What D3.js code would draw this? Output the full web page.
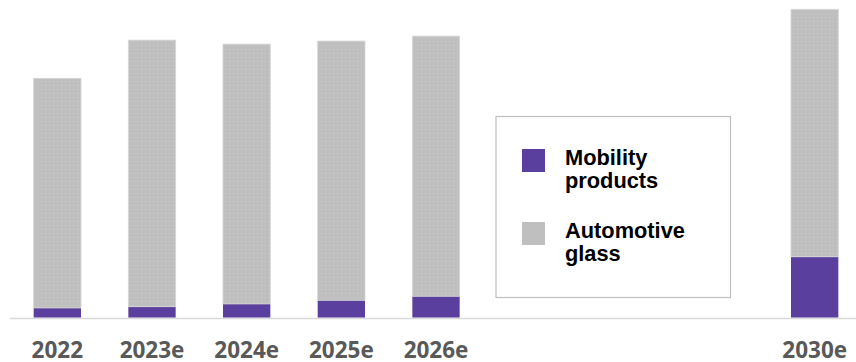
<!DOCTYPE html>
<html>
<head>
<meta charset="utf-8">
<script src="https://cdn.jsdelivr.net/npm/d3@7"></script>
<style>
  html, body { margin: 0; padding: 0; background: #fff; }
  svg { display: block; }
</style>
</head>
<body>
<svg id="chart" width="856" height="362"></svg>
<script>
// slots on the x axis (2027e-2029e are left empty, the legend sits there)
const slots = ['2022', '2023e', '2024e', '2025e', '2026e', '2027e', '2028e', '2029e', '2030e'];
const years = ['2022', '2023e', '2024e', '2025e', '2026e', '2030e'];
const mobility = [3.1, 3.5, 4.4, 5.6, 6.9, 19.7];
const autoGlass = [74.5, 86.5, 84.3, 84.1, 84.4, 80.3];
const seriesNames = ['Mobility products', 'Automotive glass'];
const legendLines = [['Mobility', 'products'], ['Automotive', 'glass']];

const purple = '#5a3f9e';
const grey = '#bfbfbf';

const svg = d3.select('#chart');
const baseY = 317.5;

const x = d3.scaleBand()
    .domain(slots)
    .range([10, 862])
    .paddingInner(0.5)
    .paddingOuter(0.25);

const y = d3.scaleLinear()
    .domain([0, 100])
    .range([baseY, 9.3]);

// dotted fill for the grey segments
const defs = svg.append('defs');
const pat = defs.append('pattern')
    .attr('id', 'dots')
    .attr('width', 4)
    .attr('height', 4)
    .attr('patternUnits', 'userSpaceOnUse');
pat.append('rect').attr('width', 4).attr('height', 4).attr('fill', grey);
pat.append('rect').attr('x', 1).attr('y', 1).attr('width', 1).attr('height', 1).attr('fill', '#cbcbcb');

const rows = years.map((yr, i) => ({ year: yr, mobility: mobility[i], glass: autoGlass[i] }));
const stacked = d3.stack().keys(['mobility', 'glass'])(rows);

// baseline
svg.append('line')
    .attr('x1', 10)
    .attr('x2', 856)
    .attr('y1', baseY + 1)
    .attr('y2', baseY + 1)
    .attr('stroke', '#d9d9d9')
    .attr('stroke-width', 1.5);

svg.selectAll('g.layer')
    .data(stacked)
    .enter()
    .append('g')
    .attr('class', 'layer')
    .attr('fill', d => d.key === 'mobility' ? purple : 'url(#dots)')
    .attr('stroke', d => d.key === 'mobility' ? 'none' : '#d6d6d6')
    .attr('stroke-width', 0.8)
    .selectAll('rect')
    .data(d => d)
    .enter()
    .append('rect')
    .attr('x', d => x(d.data.year))
    .attr('y', d => y(d[1]))
    .attr('width', x.bandwidth())
    .attr('height', d => y(d[0]) - y(d[1]));

// x axis labels
const xAxis = d3.axisBottom(x).tickValues(years).tickSize(0).tickPadding(0);
const ax = svg.append('g')
    .attr('transform', `translate(0, ${baseY})`)
    .call(xAxis);
ax.select('.domain').remove();
ax.selectAll('text')
    .attr('dy', null)
    .attr('y', 40.5)
    .attr('fill', '#595959')
    .style('font-family', '"Open Sans", sans-serif')
    .style('font-weight', 700)
    .style('font-size', '22.5px');

// legend
const lg = svg.append('g');
lg.append('rect')
    .attr('x', 496)
    .attr('y', 116.5)
    .attr('width', 234.5)
    .attr('height', 181)
    .attr('fill', '#fff')
    .attr('stroke', '#bfbfbf')
    .attr('stroke-width', 1.2);

const items = lg.selectAll('g.item')
    .data(seriesNames)
    .enter()
    .append('g')
    .attr('class', 'item')
    .attr('transform', (d, i) => `translate(0, ${i * 73})`);

items.append('rect')
    .attr('x', 522)
    .attr('y', 149)
    .attr('width', 23)
    .attr('height', 23)
    .attr('fill', (d, i) => i === 0 ? purple : grey);

items.append('text')
    .attr('x', 565)
    .attr('y', 164.5)
    .style('font-family', '"Liberation Sans", Arial, sans-serif')
    .style('font-weight', 700)
    .style('font-size', '21.8px')
    .attr('fill', '#000')
    .selectAll('tspan')
    .data((d, i) => legendLines[i])
    .enter()
    .append('tspan')
    .attr('x', 565)
    .attr('dy', (d, j) => j === 0 ? 0 : 23.5)
    .text(d => d);
</script>
</body>
</html>
